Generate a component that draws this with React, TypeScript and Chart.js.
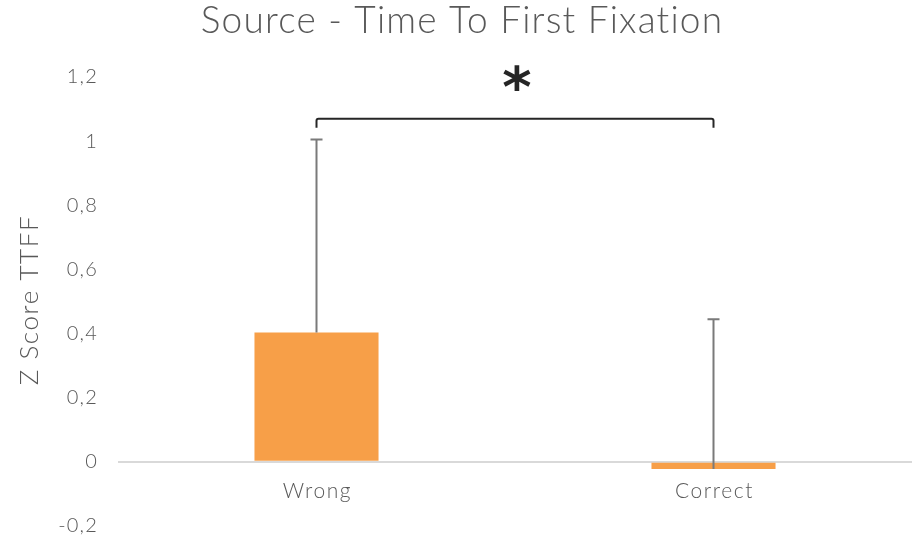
import React, { useEffect, useRef } from "react";
import { Chart, registerables } from "chart.js";

Chart.register(...registerables);

const categories = ["Wrong", "Correct"];
const means = [0.403, -0.022];
const errorsUp = [0.602, 0.467];
const yTicks = [-0.2, 0, 0.2, 0.4, 0.6, 0.8, 1, 1.2];
const titleText = "Source - Time To First Fixation";
const yAxisTitle = "Z Score TTFF";
const significance = "*";

const FONT = "Lato, 'Open Sans', sans-serif";
const GRAY = "#595959";

const spacingPlugin = {
  id: "spacing",
  beforeDraw(chart: any) {
    chart.ctx.letterSpacing = "1.2px";
  },
};

const overlayPlugin = {
  id: "overlay",
  afterDatasetsDraw(chart: any) {
    const { ctx, scales } = chart;
    const x = scales.x;
    const y = scales.y;
    ctx.save();
    // error bars
    ctx.strokeStyle = "#7a7a7a";
    ctx.lineWidth = 2;
    means.forEach((m, i) => {
      const cx = x.getPixelForValue(i);
      const y0 = y.getPixelForValue(m);
      const y1 = y.getPixelForValue(m + errorsUp[i]);
      ctx.beginPath();
      ctx.moveTo(cx, y0);
      ctx.lineTo(cx, y1);
      ctx.moveTo(cx - 6, y1);
      ctx.lineTo(cx + 6, y1);
      ctx.stroke();
    });
    // category labels
    ctx.fillStyle = GRAY;
    ctx.font = `300 21px ${FONT}`;
    ctx.letterSpacing = "1.6px";
    ctx.textAlign = "center";
    ctx.textBaseline = "middle";
    categories.forEach((c, i) => {
      ctx.fillText(c, x.getPixelForValue(i) + 1, y.getPixelForValue(-0.093));
    });
    // bracket
    const bx0 = x.getPixelForValue(0);
    const bx1 = x.getPixelForValue(1);
    const by = y.getPixelForValue(1.07);
    const byEnd = y.getPixelForValue(1.042);
    ctx.strokeStyle = "#262626";
    ctx.lineWidth = 2;
    ctx.beginPath();
    ctx.moveTo(bx0, byEnd);
    ctx.lineTo(bx0, by + 2);
    ctx.quadraticCurveTo(bx0, by, bx0 + 2, by);
    ctx.lineTo(bx1 - 2, by);
    ctx.quadraticCurveTo(bx1, by, bx1, by + 2);
    ctx.lineTo(bx1, byEnd);
    ctx.stroke();
    // asterisk
    ctx.letterSpacing = "0px";
    ctx.fillStyle = "#262626";
    ctx.font = `bold 56px 'DejaVu Sans', sans-serif`;
    ctx.textAlign = "center";
    ctx.textBaseline = "alphabetic";
    ctx.fillText(significance, (bx0 + bx1) / 2 + 2, 106);
    // title
    ctx.fillStyle = GRAY;
    ctx.font = `300 37px ${FONT}`;
    ctx.letterSpacing = "1.2px";
    ctx.textBaseline = "middle";
    ctx.fillText(titleText, 462, 21);
    // y axis title
    ctx.font = `300 26px ${FONT}`;
    ctx.letterSpacing = "1.6px";
    ctx.translate(30, 300);
    ctx.rotate(-Math.PI / 2);
    ctx.textAlign = "center";
    ctx.textBaseline = "middle";
    ctx.fillText(yAxisTitle, 0, 0);
    ctx.restore();
  },
};

export default function App() {
  const ref = useRef<HTMLCanvasElement>(null);
  useEffect(() => {
    if (!ref.current) return;
    const chart = new Chart(ref.current, {
      type: "bar",
      data: {
        labels: categories,
        datasets: [
          {
            data: means,
            backgroundColor: "#F79F48",
            borderWidth: 0,
            barPercentage: 0.625,
            categoryPercentage: 0.5,
          },
        ],
      },
      options: {
        responsive: false,
        maintainAspectRatio: false,
        devicePixelRatio: 1,
        animation: false,
        layout: { padding: { top: 77, bottom: 11, left: 0, right: 0 } },
        plugins: {
          legend: { display: false },
          tooltip: { enabled: false },
          title: { display: false },
        },
        scales: {
          x: {
            display: false,
            grid: { display: false },
          },
          y: {
            min: -0.2,
            max: 1.2,
            afterBuildTicks: (scale: any) => {
              scale.ticks = yTicks.map((v) => ({ value: v }));
            },
            afterFit: (scale: any) => {
              scale.width = 118;
              scale.paddingTop = 0;
              scale.paddingBottom = 0;
            },
            border: { display: false },
            grid: {
              drawTicks: false,
              lineWidth: 2,
              color: (c: any) =>
                c.tick && Math.abs(c.tick.value) < 1e-9 ? "#d9d9d9" : "rgba(0,0,0,0)",
            },
            ticks: {
              padding: 20,
              color: GRAY,
              font: { family: FONT, size: 20, weight: "300" },
              callback: (v: any) => String(Math.round(Number(v) * 10) / 10).replace(".", ","),
            },
          },
        },
      },
      plugins: [spacingPlugin, overlayPlugin],
    });
    return () => chart.destroy();
  }, []);
  return (
    <div style={{ position: "fixed", left: 0, top: 0, width: 912, height: 537, background: "#fff" }}>
      <canvas ref={ref} width={912} height={537} style={{ display: "block" }} />
    </div>
  );
}
